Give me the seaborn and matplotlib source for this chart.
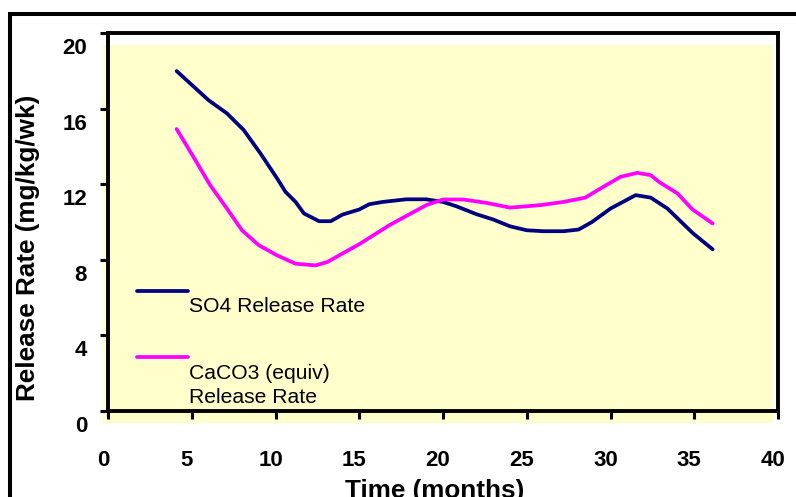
import numpy as np
import pandas as pd
import matplotlib
matplotlib.use("Agg")
import matplotlib.pyplot as plt
import seaborn as sns
from matplotlib.transforms import ScaledTranslation
from matplotlib.patches import Rectangle
from matplotlib.lines import Line2D
from matplotlib.legend_handler import HandlerLine2D

# ---- data ----
months_so4 = [4.1, 6.0, 7.1, 8.1, 9.1, 10.1, 10.6, 11.2, 11.7, 12.6, 13.3, 14.0, 15.0,
              15.6, 16.4, 17.8, 19.0, 20.0, 20.8, 22.0, 23.0, 24.0, 25.0, 26.0, 27.2,
              28.1, 28.9, 30.0, 31.5, 32.4, 33.4, 34.9, 36.1]
so4_rate = [18.0, 16.46, 15.76, 14.88, 13.64, 12.31, 11.60, 11.07, 10.46, 10.05, 10.05,
            10.40, 10.67, 10.95, 11.07, 11.21, 11.21, 11.07, 10.84, 10.42, 10.14, 9.78,
            9.57, 9.52, 9.52, 9.61, 10.01, 10.72, 11.43, 11.30, 10.72, 9.43, 8.56]
months_caco3 = [4.1, 5.1, 6.1, 7.1, 8.0, 9.0, 10.1, 11.2, 12.4, 13.1, 14.0, 15.0, 16.8,
                19.0, 20.0, 21.2, 22.6, 24.0, 25.8, 27.2, 28.5, 29.4, 30.6, 31.6, 32.4,
                32.9, 34.0, 34.9, 36.1]
caco3_rate = [14.93, 13.46, 11.96, 10.72, 9.57, 8.78, 8.24, 7.80, 7.71, 7.89, 8.34, 8.83,
              9.84, 10.90, 11.20, 11.20, 11.02, 10.77, 10.90, 11.07, 11.30, 11.78, 12.40,
              12.61, 12.49, 12.13, 11.52, 10.67, 9.93]
series_names = ["SO4 Release Rate", "CaCO3 (equiv)\nRelease Rate"]
series_colors = ["#000080", "#FF00FF"]
x_ticks = [0, 5, 10, 15, 20, 25, 30, 35, 40]
y_ticks = [0, 4, 8, 12, 16, 20]

df = pd.concat([
    pd.DataFrame({"Time": months_so4, "Rate": so4_rate, "Series": series_names[0]}),
    pd.DataFrame({"Time": months_caco3, "Rate": caco3_rate, "Series": series_names[1]}),
], ignore_index=True)

sns.set_theme(style="white")
plt.rcParams["font.family"] = ["Liberation Sans", "DejaVu Sans"]
plt.rcParams["text.color"] = "black"
plt.rcParams["axes.labelcolor"] = "black"
plt.rcParams["xtick.color"] = "black"
plt.rcParams["ytick.color"] = "black"

W, H = 796, 497
fig = plt.figure(figsize=(W / 100, H / 100), dpi=100)
ax = fig.add_axes([108 / W, 1 - 411 / H, 670 / W, (411 - 33.3) / H])
ax.set_facecolor("white")

# shifted yellow plot-area fill (as in the original)
shift = ScaledTranslation(-5 / 100, -12 / 100, fig.dpi_scale_trans)
ax.add_patch(Rectangle((0, 0), 1, 1, transform=ax.transAxes + shift,
                       facecolor="#FFFFCC", edgecolor="none", zorder=0, clip_on=False))

sns.lineplot(data=df, x="Time", y="Rate", hue="Series", hue_order=series_names,
             palette=dict(zip(series_names, series_colors)), linewidth=2.7,
             legend=False, ax=ax, zorder=3)

ax.set_xlim(0, 40)
ax.set_ylim(0, 20)
ax.set_xticks(x_ticks)
ax.set_yticks(y_ticks)
ax.set_xticklabels([str(v) for v in x_ticks])
ax.set_yticklabels([str(v) for v in y_ticks])
ax.tick_params(axis="both", direction="out", length=5.5, width=2.2, color="black",
               labelsize=16, labelcolor="black")
ax.tick_params(axis="x", pad=13, bottom=True)
ax.tick_params(axis="y", pad=6, left=True)
for lab in ax.get_xticklabels() + ax.get_yticklabels():
    lab.set_fontweight("bold")
    lab.set_transform(lab.get_transform() +
                      ScaledTranslation(-5 / 100, -13 / 100, fig.dpi_scale_trans))

for sp in ax.spines.values():
    sp.set_visible(True)
    sp.set_color("black")
    sp.set_linewidth(2.8)
    sp.set_zorder(4)

ax.set_xlabel("Time (months)", fontsize=18.8, fontweight="bold", color="black")
ax.set_ylabel("Release Rate (mg/kg/wk)", fontsize=18.8, fontweight="bold", color="black")
ax.xaxis.set_label_coords(0.488, -0.18)
ax.xaxis.label.set_va("top")
ax.yaxis.set_label_coords(-0.1194, 0.4325)
ax.yaxis.label.set_va("center")


class LiftedLine(HandlerLine2D):
    def __init__(self, lift, **kw):
        super().__init__(**kw)
        self.lift = lift

    def create_artists(self, legend, orig_handle, xdescent, ydescent, width, height,
                       fontsize, trans):
        arts = super().create_artists(legend, orig_handle, xdescent, ydescent, width,
                                      height, fontsize, trans)
        for a in arts:
            a.set_ydata(np.asarray(a.get_ydata(), dtype=float) + self.lift)
        return arts


handles = [Line2D([], [], color=c, lw=2.7) for c in series_colors]
leg = ax.legend(handles, series_names,
                handler_map={handles[0]: LiftedLine(9.8), handles[1]: LiftedLine(20.6)},
                loc="upper left", bbox_to_anchor=(0.0433, 0.301), frameon=False,
                fontsize=15.2, handlelength=2.4, handletextpad=0.06, labelspacing=2.25,
                borderpad=0, borderaxespad=0)
for t in leg.get_texts():
    t.set_color("black")
    t.set_linespacing(1.32)

# outer chart border
fig.add_artist(Rectangle((10.3 / W, -0.2), 2, 1 - 13.7 / H + 0.2,
                         transform=fig.transFigure, fill=False, edgecolor="black",
                         linewidth=2.9))

fig.savefig("out.png", dpi=100)
